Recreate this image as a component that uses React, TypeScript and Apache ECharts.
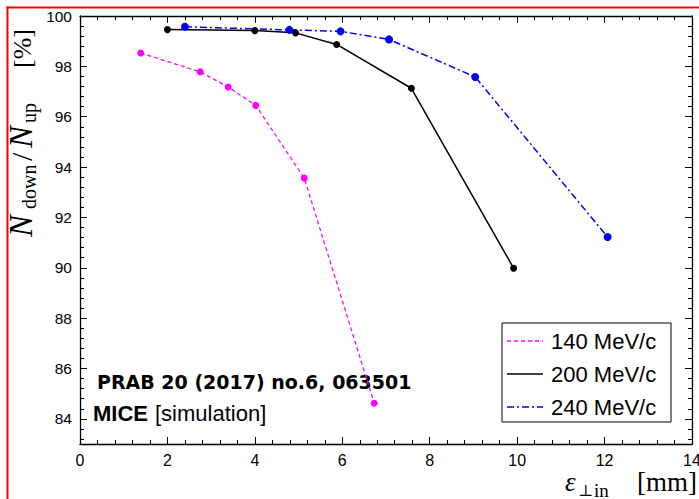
import React, { useEffect, useRef } from 'react';
import * as echarts from 'echarts';

// ---- data ----
const seriesNames = ['140 MeV/c', '200 MeV/c', '240 MeV/c'];
const emit140 = [1.39, 2.75, 3.39, 4.02, 5.13, 6.73];
const ratio140 = [98.53, 97.78, 97.18, 96.45, 93.56, 84.62];
const emit200 = [2.0, 4.0, 4.93, 5.87, 7.58, 9.92];
const ratio200 = [99.46, 99.42, 99.33, 98.87, 97.13, 89.98];
const emit240 = [2.4, 4.79, 5.96, 7.07, 9.04, 12.07];
const ratio240 = [99.57, 99.45, 99.39, 99.07, 97.58, 91.22];
const xTickLabels = [0, 2, 4, 6, 8, 10, 12, 14];
const yTickLabels = [84, 86, 88, 90, 92, 94, 96, 98, 100];
const annotationRef = 'PRAB 20 (2017) no.6, 063501';
const annotationBold = 'MICE';
const annotationNote = '[simulation]';

// ---- styles ----
const X_MIN = 0, X_MAX = 14, Y_MIN = 83, Y_MAX = 100;
const colors = ['#ff00ff', '#000000', '#0000ff'];
const dashTypes: any[] = [[4, 3], 'solid', [7, 3, 2, 3]];
const lineWidths = [1.3, 1.5, 1.5];
const symbolSizes = [7, 7, 8];

const yMinor: number[] = [];
for (let k = -5; k <= 45; k++) {
  const v = Math.round((84 + 0.4 * k) * 10) / 10;
  if (v > Y_MIN && v < Y_MAX && Math.abs(v / 2 - Math.round(v / 2)) > 1e-6) yMinor.push(v);
}

const tickFont = { color: '#000', fontSize: 16, fontFamily: 'Liberation Sans' };

function xAxisDef(position: string, showLabel: boolean) {
  return {
    type: 'value', position, min: X_MIN, max: X_MAX, interval: 2,
    axisLine: { show: true, onZero: false, lineStyle: { color: '#000', width: 1.3 } },
    axisTick: { show: true, inside: true, length: 7, lineStyle: { color: '#000', width: 1 } },
    minorTick: { show: true, splitNumber: 5, length: 4, lineStyle: { color: '#000', width: 1 } },
    axisLabel: { show: showLabel, ...tickFont, margin: 8, customValues: xTickLabels },
    splitLine: { show: false }, minorSplitLine: { show: false },
  };
}
function yAxisDef(position: string, ticks: number[], len: number, showLabel: boolean, showLine: boolean) {
  return {
    type: 'value', position, min: Y_MIN, max: Y_MAX,
    axisLine: { show: showLine, onZero: false, lineStyle: { color: '#000', width: 1.3 } },
    axisTick: { show: true, inside: true, length: len, customValues: ticks, lineStyle: { color: '#000', width: 1 } },
    axisLabel: showLabel ? { show: true, ...tickFont, fontSize: 15.5, margin: 8, customValues: yTickLabels } : { show: false },
    splitLine: { show: false },
  };
}

export default function App() {
  const ref = useRef<HTMLDivElement>(null);
  useEffect(() => {
    if (!ref.current) return;
    const chart = echarts.init(ref.current, undefined, { renderer: 'svg' });
    const xs = [emit140, emit200, emit240];
    const ys = [ratio140, ratio200, ratio240];
    const series = seriesNames.map((name, i) => ({
      name, type: 'line', xAxisIndex: 0, yAxisIndex: 0,
      data: xs[i].map((x, j) => [x, ys[i][j]]),
      symbol: 'circle', symbolSize: symbolSizes[i], showSymbol: true,
      lineStyle: { color: colors[i], width: lineWidths[i], type: dashTypes[i] },
      itemStyle: { color: colors[i] },
      z: 3,
    }));

    const legendRows = [341, 374, 407];
    const legendEls: any[] = [
      { type: 'rect', shape: { x: 502, y: 323, width: 169, height: 99 }, style: { fill: '#fff', stroke: '#000', lineWidth: 1 }, z: 20 },
    ];
    seriesNames.forEach((name, i) => {
      legendEls.push({
        type: 'line', shape: { x1: 507, y1: legendRows[i], x2: 543, y2: legendRows[i] },
        style: { stroke: colors[i], lineWidth: lineWidths[i], lineDash: Array.isArray(dashTypes[i]) ? dashTypes[i] : null }, z: 21,
      });
      legendEls.push({
        type: 'text', x: 551, y: legendRows[i],
        style: { text: name, fill: '#000', fontSize: 22, fontFamily: 'Liberation Sans', align: 'left', verticalAlign: 'middle' }, z: 21,
      });
    });

    const serif = 'Liberation Serif';
    const yName = [
      { t: 'N', x: 21, y: 237, fs: 33, st: 'italic' },
      { t: 'down', x: 29, y: 209, fs: 20, st: 'normal' },
      { t: '/', x: 21, y: 161, fs: 30, st: 'normal' },
      { t: 'N', x: 21, y: 148, fs: 33, st: 'italic' },
      { t: 'up', x: 29, y: 123, fs: 20, st: 'normal' },
      { t: '[%]', x: 22, y: 68, fs: 26, st: 'normal' },
    ].map((p) => ({
      type: 'text', x: p.x, y: p.y, rotation: Math.PI / 2,
      style: { text: p.t, fill: '#000', fontSize: p.fs, fontStyle: p.st, fontFamily: serif, align: 'left', verticalAlign: 'middle' },
    }));

    const xName = [
      { type: 'text', x: 565, y: 482, style: { text: 'ε', fill: '#000', fontSize: 27, fontStyle: 'italic', fontFamily: serif, align: 'left', verticalAlign: 'middle' } },
      { type: 'text', x: 578, y: 490, style: { text: '⊥', fill: '#000', fontSize: 16, fontFamily: 'DejaVu Serif', align: 'left', verticalAlign: 'middle' } },
      { type: 'text', x: 594, y: 490, style: { text: 'in', fill: '#000', fontSize: 19, fontFamily: serif, align: 'left', verticalAlign: 'middle' } },
      { type: 'text', x: 637, y: 482, style: { text: '[mm]', fill: '#000', fontSize: 27, fontFamily: serif, align: 'left', verticalAlign: 'middle' } },
    ];

    const notes = [
      { type: 'text', x: 97, y: 382, z: 1, style: { text: annotationRef, fill: '#000', fontSize: 19, fontWeight: 'bold', fontFamily: 'DejaVu Sans', align: 'left', verticalAlign: 'middle' } },
      { type: 'text', x: 93, y: 413, z: 1, style: { text: annotationBold, fill: '#000', fontSize: 22, fontWeight: 'bold', fontFamily: 'Liberation Sans', align: 'left', verticalAlign: 'middle' } },
      { type: 'text', x: 155, y: 413, z: 1, style: { text: annotationNote, fill: '#000', fontSize: 22, fontFamily: 'Liberation Sans', align: 'left', verticalAlign: 'middle' } },
    ];

    const frame = [
      { type: 'line', shape: { x1: 7.5, y1: 6.5, x2: 7.5, y2: 499 }, style: { stroke: '#ff0000', lineWidth: 2 } },
      { type: 'line', shape: { x1: 6.5, y1: 7.5, x2: 699, y2: 7.5 }, style: { stroke: '#ff0000', lineWidth: 2 } },
    ];

    chart.setOption({
      animation: false,
      backgroundColor: '#fff',
      grid: { left: 80, right: 7, top: 16, bottom: 55, containLabel: false, outerBoundsMode: 'none' },
      xAxis: [xAxisDef('bottom', true), xAxisDef('top', false)],
      yAxis: [
        yAxisDef('left', yTickLabels, 7, true, true),
        yAxisDef('left', yMinor, 4, false, false),
        yAxisDef('right', yTickLabels, 7, false, true),
        yAxisDef('right', yMinor, 4, false, false),
      ],
      series,
      graphic: [...frame, ...notes, ...yName, ...xName, ...legendEls],
    } as any);
    return () => chart.dispose();
  }, []);
  return <div ref={ref} style={{ position: 'absolute', left: 0, top: 0, width: 699, height: 499 }} />;
}
